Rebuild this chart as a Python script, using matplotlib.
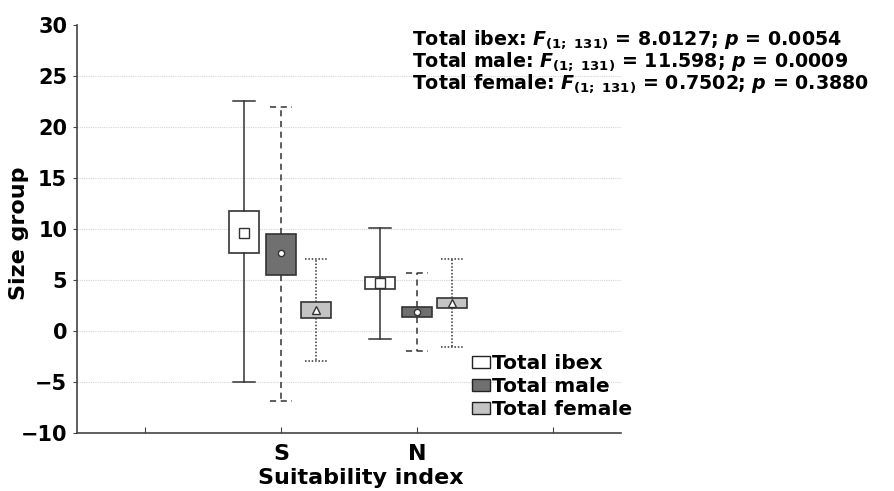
import numpy as np
import matplotlib
matplotlib.use("Agg")
import matplotlib.pyplot as plt
from matplotlib.patches import Patch

plt.rcParams['font.family'] = ['DejaVu Sans']
plt.rcParams['font.weight'] = 'bold'
plt.rcParams['mathtext.fontset'] = 'custom'
plt.rcParams['mathtext.rm'] = 'DejaVu Sans:bold'
plt.rcParams['mathtext.it'] = 'DejaVu Sans:italic:bold'
plt.rcParams['mathtext.bf'] = 'DejaVu Sans:bold'

# data
groups = ['S', 'N']
series = ['Total ibex', 'Total male', 'Total female']
means = {'Total ibex': [9.6, 4.7], 'Total male': [7.6, 1.9], 'Total female': [2.1, 2.7]}
box_lo = {'Total ibex': [7.6, 4.1], 'Total male': [5.5, 1.4], 'Total female': [1.3, 2.3]}
box_hi = {'Total ibex': [11.8, 5.3], 'Total male': [9.5, 2.35], 'Total female': [2.85, 3.2]}
whis_lo = {'Total ibex': [-5.0, -0.75], 'Total male': [-6.9, -2.0], 'Total female': [-2.9, -1.55]}
whis_hi = {'Total ibex': [22.5, 10.1], 'Total male': [22.0, 5.7], 'Total female': [7.1, 7.1]}
stats_lines = [
    r'Total ibex: $F_{\mathrm{(1;\ 131)}}$ = 8.0127; $p$ = 0.0054',
    r'Total male: $F_{\mathrm{(1;\ 131)}}$ = 11.598; $p$ = 0.0009',
    r'Total female: $F_{\mathrm{(1;\ 131)}}$ = 0.7502; $p$ = 0.3880',
]

# styles
fills = {'Total ibex': 'white', 'Total male': '#707070', 'Total female': '#c4c4c4'}
lstyles = {'Total ibex': '-', 'Total male': (0, (4, 3)), 'Total female': (0, (1, 1.2))}
mk = {'Total ibex': ('s', 6.5), 'Total male': ('o', 4.5), 'Total female': ('^', 6)}
centers = np.array([1.0, 2.0])
offsets = {'Total ibex': -0.27, 'Total male': 0.0, 'Total female': 0.26}
edge = '#333333'

fig = plt.figure(figsize=(8.94, 4.91), dpi=100)
ax = fig.add_axes([77 / 894, 1 - 433 / 491, 544 / 894, 408 / 491])

for s in series:
    st = []
    for i in range(len(groups)):
        st.append(dict(med=means[s][i], q1=box_lo[s][i], q3=box_hi[s][i],
                       whislo=whis_lo[s][i], whishi=whis_hi[s][i],
                       mean=means[s][i], fliers=[]))
    m, ms = mk[s]
    ax.bxp(st, positions=centers + offsets[s], widths=0.22, capwidths=0.16,
           showmeans=True, showfliers=False, patch_artist=True,
           boxprops=dict(facecolor=fills[s], edgecolor=edge, linewidth=1.2),
           whiskerprops=dict(color=edge, linestyle=lstyles[s], linewidth=1.1),
           capprops=dict(color=edge, linestyle=lstyles[s], linewidth=1.1),
           medianprops=dict(linewidth=0),
           meanprops=dict(marker=m, markersize=ms, markerfacecolor='white',
                          markeredgecolor=edge, markeredgewidth=1.0),
           zorder=3)

ax.set_xlim(-0.5, 3.5)
ax.set_ylim(-10, 30)
ax.set_xticks([0, 1, 2, 3])
ax.set_xticklabels([''] + groups + [''], fontsize=16, fontweight='bold')
ax.set_yticks(np.arange(-10, 31, 5))
ax.set_yticklabels([('\u2212%d' % -v) if v < 0 else '%d' % v for v in range(-10, 31, 5)],
                   fontsize=15, fontweight='bold')
ax.tick_params(axis='x', direction='in', length=4, color='#444444', pad=8)
ax.tick_params(axis='y', direction='out', length=3, color='#444444', pad=4)
for v in range(-5, 30, 5):
    ax.axhline(v, color='#d4d4d4', linewidth=0.8, linestyle=(0, (1, 1)), zorder=1)
for sp in ['top', 'right']:
    ax.spines[sp].set_visible(False)
for sp in ['left', 'bottom']:
    ax.spines[sp].set_color('#444444')
    ax.spines[sp].set_linewidth(1.2)

ax.set_ylabel('Size group', fontsize=16, fontweight='bold')
ax.yaxis.set_label_coords(-0.088, 0.49)
ax.set_xlabel('Suitability index', fontsize=16, fontweight='bold')
ax.xaxis.set_label_coords(0.522, -0.085)

handles = [Patch(facecolor=fills[s], edgecolor='#222222', linewidth=1.0) for s in series]
leg = ax.legend(handles, series, loc='upper left', bbox_to_anchor=(472 / 894, 1 - 354 / 491),
                bbox_transform=fig.transFigure, frameon=False, fontsize=14.5,
                handlelength=0.9, handleheight=0.6, handletextpad=0.1,
                labelspacing=0.2, borderpad=0, borderaxespad=0)
for t in leg.get_texts():
    t.set_fontweight('bold')

for i, line in enumerate(stats_lines):
    fig.text(412 / 894, 1 - (45 + 22 * i) / 491, line, fontsize=13.7,
             fontweight='bold', va='baseline', ha='left')

fig.savefig('out.png', dpi=100)
